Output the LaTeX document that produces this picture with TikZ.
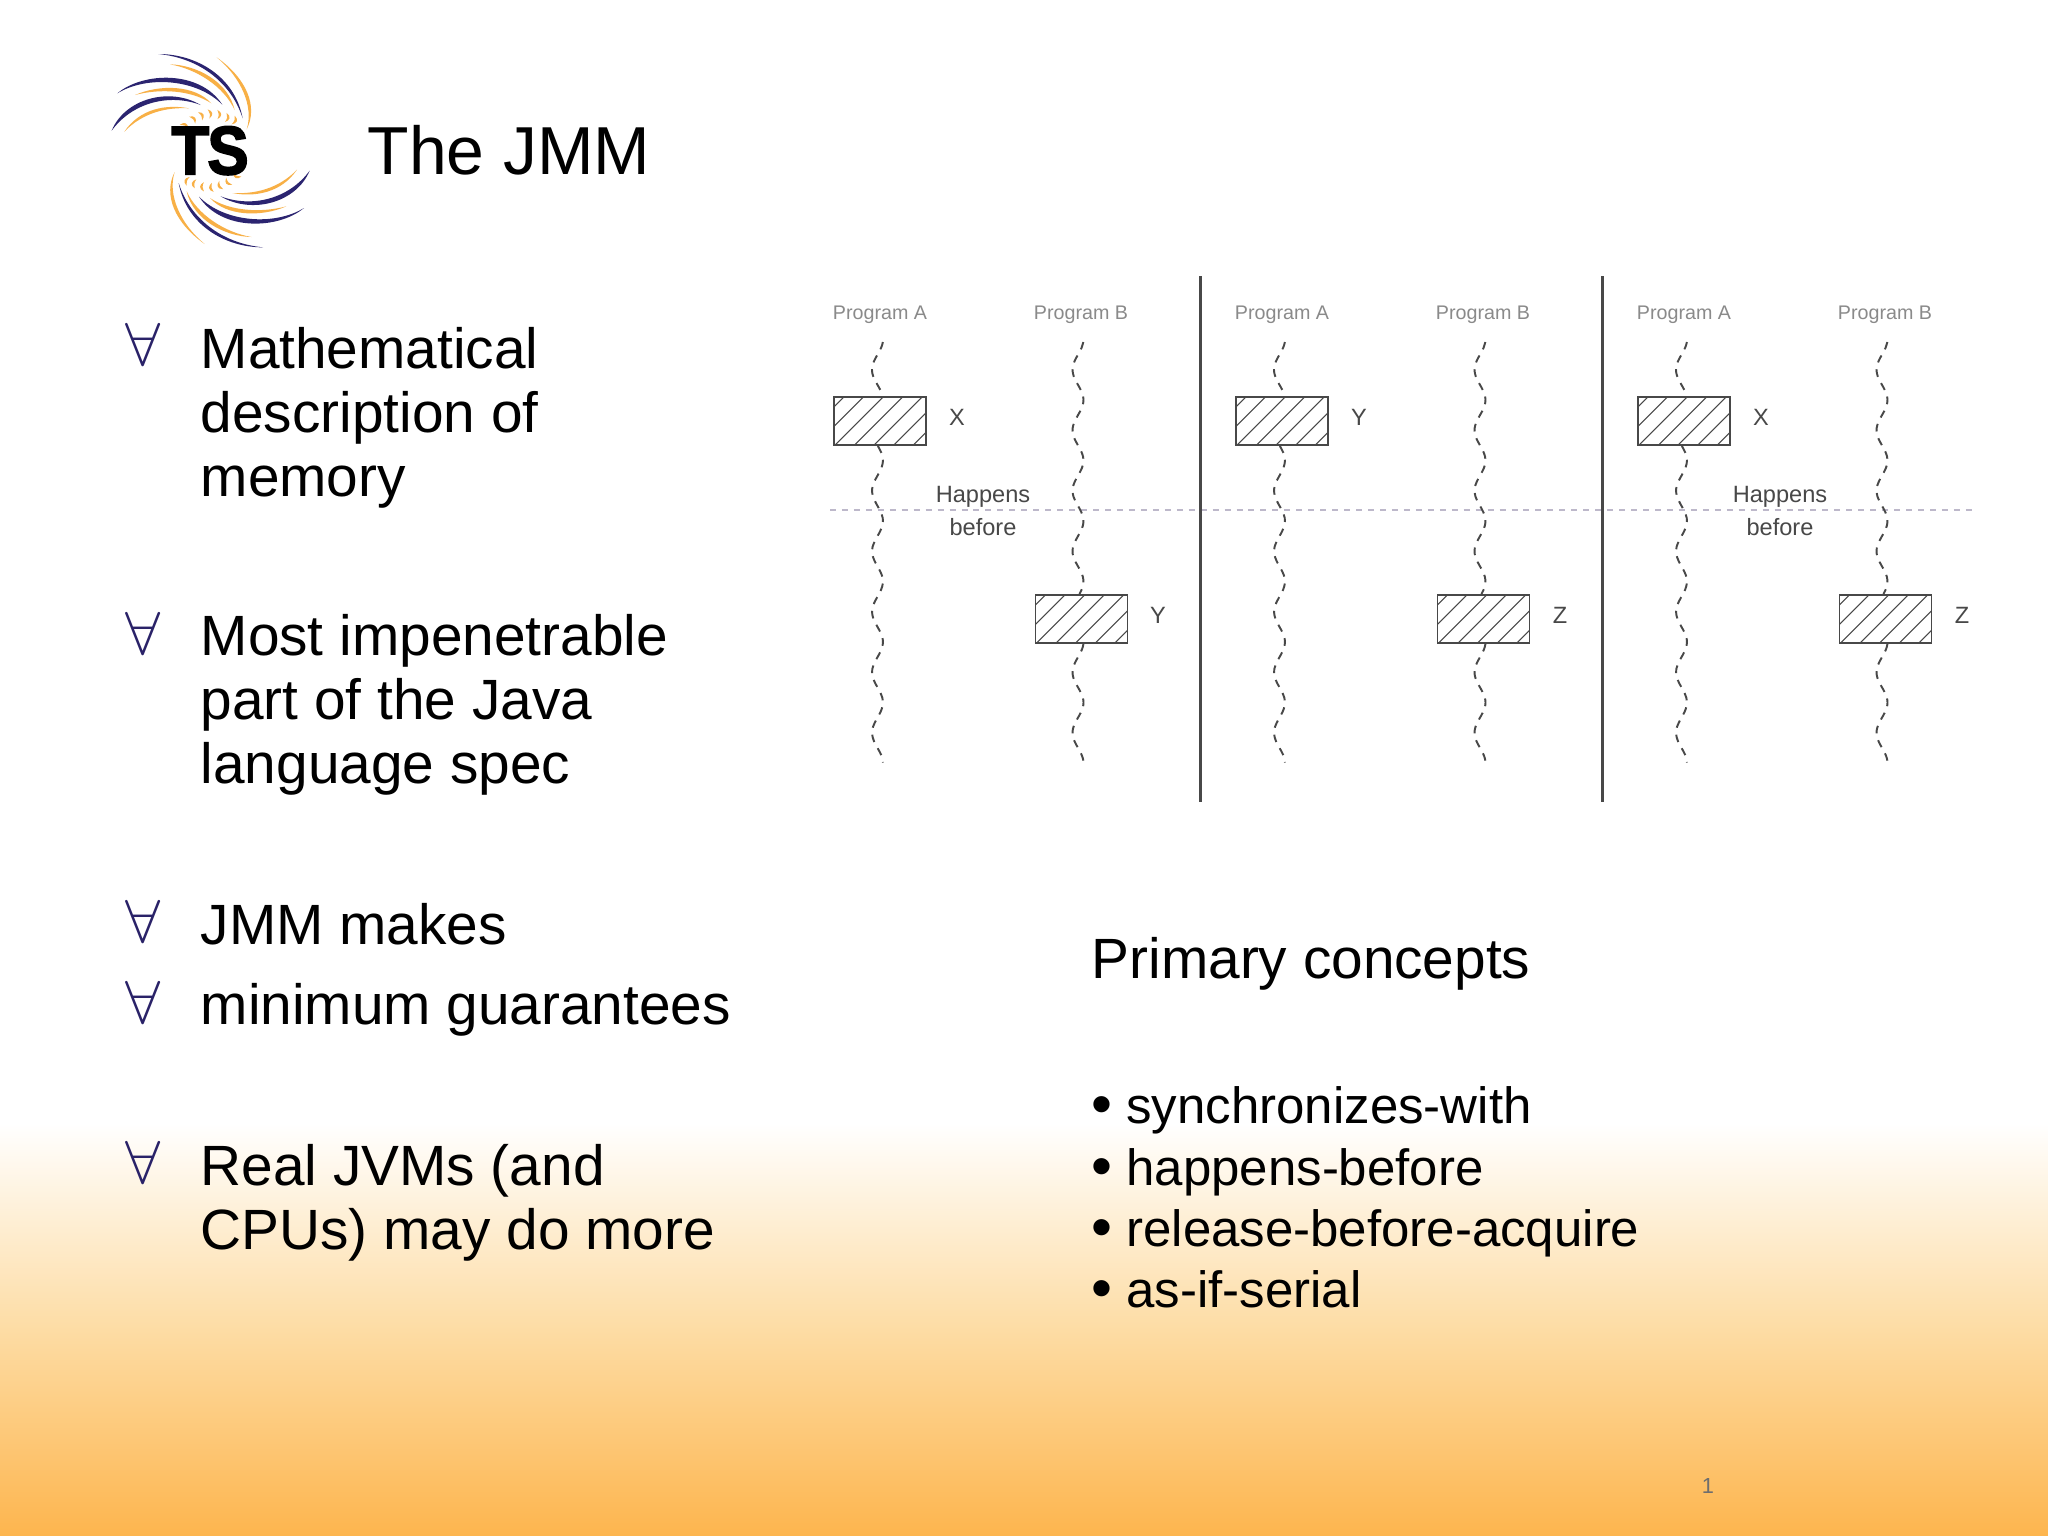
\documentclass[tikz,border=0pt]{standalone}
\usepackage{fontspec}
\setmainfont{Liberation Sans}
\newfontfamily\logofont[BoldFeatures={FakeBold=2.5,FakeStretch=0.9}]{Liberation Sans}
\usepackage{xcolor}
\usepackage{tikz}
\definecolor{bandorange}{HTML}{FDB54E}
\definecolor{bandmid}{HTML}{FDDCA4}
\definecolor{logoblue}{HTML}{2B2470}
\definecolor{logoorange}{HTML}{F8B046}
\definecolor{bulletblue}{HTML}{2A2268}
\definecolor{figgrey}{HTML}{8A8A8A}
\definecolor{figdark}{HTML}{484848}
\definecolor{figdots}{HTML}{BDB8CA}
\tikzset{
  bodytext/.style={anchor=base west,inner sep=0pt,text width=7cm,font=\fontsize{16.15}{18.2}\selectfont,
    execute at begin node={\spaceskip=0pt\xspaceskip=0pt\relax}},
  listtext/.style={anchor=base west,inner sep=0pt,font=\fontsize{14.5}{17}\selectfont},
  forallmark/.style={anchor=base,inner sep=0pt,text=bulletblue,font=\fontsize{16}{17}\selectfont},
  figlabel/.style={inner sep=0pt,anchor=base,text=figdark,font=\fontsize{6.7}{8}\selectfont},
  proglabel/.style={inner sep=0pt,anchor=base,text=figgrey,font=\fontsize{5.6}{7}\selectfont},
  threadline/.style={figdark,line width=0.55pt,dash pattern=on 2.2pt off 2pt},
  hatchbox/.style={draw=figdark,line width=0.5pt,minimum width=0.92cm,minimum height=0.48cm,inner sep=0pt,
    path picture={\foreach \h in {-2,...,4}
      \draw[figdark,line width=0.3pt] ([xshift=\h*0.196cm+0.01cm]path picture bounding box.south west) -- ++(70,-70);}}
}
% list bullet, larger than the one of the font
\newcommand{\listdot}{\raisebox{-0.02em}{\fontsize{17}{17}\selectfont •}\hspace{0.27em}}
% column bullet
\newcommand{\allmark}{\scalebox{1.04}[1]{$\forall$}}
% one thread, x position then first and last y
\newcommand{\threadwave}[3]{\draw[threadline] plot[domain=#2:#3,samples=45,smooth] ({#1+5.5*cos(5.95*(\x-763))},\x);}
% half of the logo
\newcommand{\logoarms}{
  \fill[logoblue] (205,72) .. controls (320,72) and (435,140) .. (458,265) .. controls (425,160) and (330,84) .. cycle;
  \fill[logoorange] (380,82) .. controls (470,145) and (505,230) .. (470,298) .. controls (492,230) and (453,142) .. cycle;
  \fill[logoorange] (240,103) .. controls (320,105) and (415,155) .. (434,240) .. controls (402,170) and (320,117) .. cycle;
  \fill[logoblue] (82,190) .. controls (160,125) and (330,120) .. (397,224) .. controls (320,146) and (170,136) .. cycle;
  \fill[logoorange] (135,195) .. controls (210,162) and (315,165) .. (364,220) .. controls (303,180) and (210,175) .. cycle;
  \fill[logoblue] (65,302) .. controls (105,205) and (240,170) .. (332,225) .. controls (240,190) and (128,216) .. cycle;
  \fill[logoorange] (103,305) .. controls (150,235) and (230,222) .. (297,235) .. controls (230,231) and (158,248) .. cycle;
  \foreach \cx/\cy/\ang in {285/283/60,312/265/35,337/255/20,363/250/5,390/253/-5,415/263/-15,437/272/-25}
    \fill[logoorange,shift={(\cx,\cy)},rotate=\ang,scale=1.25] (-7,-10) .. controls (6,-5) and (6,5) .. (-5,12) .. controls (-2,4) and (-2,-4) .. cycle;
}

\begin{document}
\begin{tikzpicture}[x=0.01cm,y=-0.01cm]
    \useasboundingbox (0,0) rectangle (2048,1536);
    % Background band
    \fill[white] (0,0) rectangle (2048,1123);
    \shade[top color=white,bottom color=bandmid] (0,1123) rectangle (2048,1330);
    \shade[top color=bandmid,bottom color=bandorange] (0,1330) rectangle (2048,1536);
    % Logo
    \begin{scope}[shift={(90,30)},x=0.01cm/3,y=-0.01cm/3]
        \logoarms
        \begin{scope}[rotate around={180:(362,362)}]
            \logoarms
        \end{scope}
        \node[inner sep=0pt] (logotext) at (360,362) {\logofont\bfseries\fontsize{19.5}{20}\selectfont T\kern-0.5ptS};
    \end{scope}
    % Title
    \node[anchor=base west,inner sep=0pt,font=\fontsize{19.3}{22}\selectfont] (title) at (367,174) {The JMM};
    % Left column
    \node[forallmark] (markA) at (143,365.5) {\allmark};
    \node[bodytext] (textA) at (200,368) {Mathematical\\description of\\memory};
    \node[forallmark] (markB) at (143,654) {\allmark};
    \node[bodytext] (textB) at (200,655) {Most impenetrable\\part of the Java\\language spec};
    \node[forallmark] (markC) at (143,942) {\allmark};
    \node[bodytext] (textC) at (200,944) {JMM makes};
    \node[forallmark] (markD) at (143,1023) {\allmark};
    \node[bodytext] (textD) at (200,1024) {minimum guarantees};
    \node[forallmark] (markE) at (143,1183) {\allmark};
    \node[bodytext] (textE) at (200,1185) {Real JVMs (and\\CPUs) may do more};
    % Happens-before figure
    \draw[figdots,line width=0.45pt,dash pattern=on 1.7pt off 1.7pt] (830,510) -- (1972,510);
    \foreach \dx/\labA/\labB in {0/X/Y,402/Y/Z,804/X/Z}{
        \begin{scope}[shift={(\dx,0)}]
            \node[proglabel] (progA\dx) at (880,319) {Program A};
            \node[proglabel] (progB\dx) at (1081,319) {Program B};
            \threadwave{877.5}{342}{396}
            \threadwave{877.5}{446}{762.5}
            \threadwave{1078}{342}{594}
            \threadwave{1078}{644}{761}
            \node[hatchbox] (boxA\dx) at (880,421) {};
            \node[hatchbox] (boxB\dx) at (1081.5,619) {};
            \node[figlabel] (labA\dx) at (957,425) {\labA};
            \node[figlabel] (labB\dx) at (1158,623) {\labB};
        \end{scope}
    }
    \node[figlabel] (hbA) at (983,502) {Happens};
    \node[figlabel] (hbB) at (983,535) {before};
    \node[figlabel] (hbC) at (1780,502) {Happens};
    \node[figlabel] (hbD) at (1780,535) {before};
    % Panel dividers
    \foreach \px in {1200.5,1602.5}
        \draw[figdark,line width=0.6pt] (\px,276) -- (\px,802);
    % Right column
    \node[anchor=base west,inner sep=0pt,font=\fontsize{16.15}{18}\selectfont] (concepts) at (1091,978) {Primary concepts};
    \node[listtext] (itemA) at (1091,1123) {\listdot synchronizes-with};
    \node[listtext] (itemB) at (1091,1185) {\listdot happens-before};
    \node[listtext] (itemC) at (1091,1246) {\listdot release-before-acquire};
    \node[listtext] (itemD) at (1091,1307) {\listdot as-if-serial};
    % Page number
    \node[inner sep=0pt,text=figgrey!80!black,font=\fontsize{6.2}{8}\selectfont] (pagenum) at (1708,1486) {1};
\end{tikzpicture}
\end{document}
